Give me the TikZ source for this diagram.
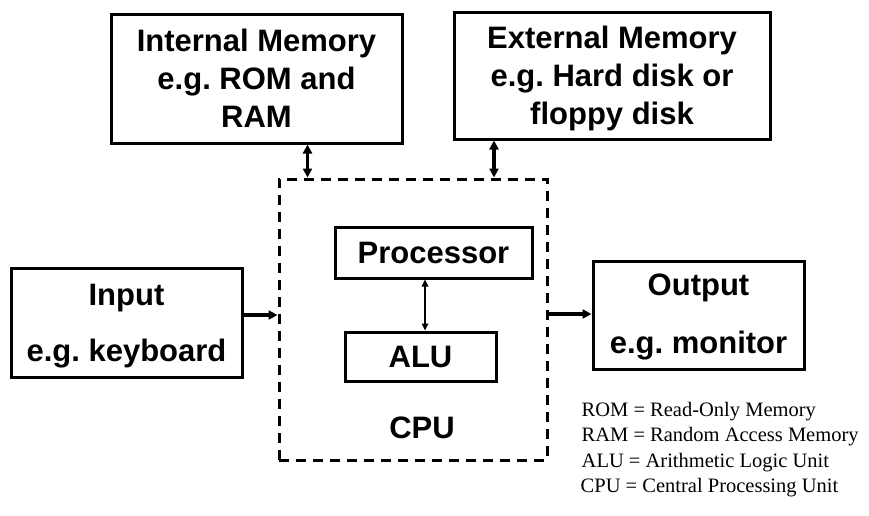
\documentclass[tikz,border=0pt]{standalone}
\usepackage{fontspec}
\setmainfont{Liberation Serif}
\setsansfont{Liberation Sans}
\usetikzlibrary{arrows.meta}

\tikzset{
  unit/.style={draw, line width=3pt, inner sep=0pt, align=center,
    font=\sffamily\bfseries\fontsize{31}{38}\selectfont},
  link/.style={line width=3.2pt, {Triangle[length=9pt,width=9pt]}-{Triangle[length=9pt,width=9pt]}},
  smalllink/.style={line width=1.6pt, {Triangle[length=7pt,width=6.5pt]}-{Triangle[length=7pt,width=6.5pt]}},
  feed/.style={line width=3.2pt, -{Triangle[length=9pt,width=9pt]}},
  abbr/.style={anchor=base west, inner sep=0pt, font=\fontsize{20.5}{24}\selectfont},
}

\begin{document}
\begin{tikzpicture}[x=1pt,y=-1pt]

\useasboundingbox (0,0) rectangle (869,515);

% memories
\node[unit, minimum width=291pt, minimum height=129pt, text depth=0pt] (intmem) at (256.5,78.5)
  {Internal Memory\\e.g.\ ROM and\\RAM};
\node[unit, minimum width=316pt, minimum height=127pt, text depth=0pt] (extmem) at (612,75.5)
  {External Memory\\e.g.\ Hard disk or\\floppy disk};

% cpu
\node[draw, line width=3pt, dash pattern=on 10pt off 7pt, minimum width=268pt, minimum height=281pt] (cpu) at (413,319.5) {};
\node[unit, minimum width=197pt, minimum height=51pt, text depth=0pt] (proc) at (433.5,252.5) {Processor};
\node[unit, minimum width=151pt, minimum height=49pt, text depth=0pt] (alu) at (420.5,356.5) {ALU};
\node[unit, draw=none, text depth=0pt] (cpulabel) at (422,427.5) {CPU};

% input / output
\node[unit, minimum width=231pt, minimum height=109pt, text depth=0pt] (inp) at (126.5,322.5)
  {Input\\[18pt]e.g.\ keyboard};
\node[unit, minimum width=211pt, minimum height=108pt, text depth=3pt] (outp) at (698.5,315)
  {Output\\[20pt]e.g.\ monitor};

\draw[link] ([xshift=51pt]intmem.south) -- ([xshift=51pt]intmem.south |- cpu.north);
\draw[link] ([xshift=-118pt]extmem.south) -- ([xshift=-118pt]extmem.south |- cpu.north);
\draw[smalllink] ([xshift=-8.5pt]proc.south) -- ([xshift=-8.5pt]proc.south |- alu.north);
\draw[feed] ([yshift=7.5pt]inp.east) -- ([yshift=7.5pt]inp.east -| cpu.west);
\draw[feed] ([yshift=1pt]outp.west -| cpu.east) -- ([yshift=1pt]outp.west);

% abbreviations
\node[abbr] (romkey) at (581.5,416.7) {ROM = Read-Only Memory};
\node[abbr] (ramkey) at (581.5,441.7) {RAM = Random Access Memory};
\node[abbr] (alukey) at (581.5,467) {ALU = Arithmetic Logic Unit};
\node[abbr] (cpukey) at (580.5,492.7) {CPU = Central Processing Unit};

\end{tikzpicture}
\end{document}
